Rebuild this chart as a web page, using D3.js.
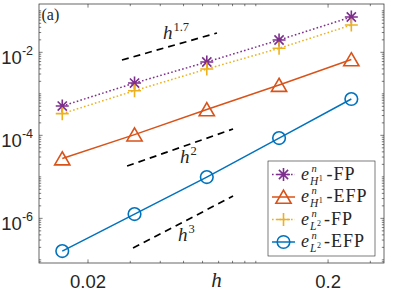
<!DOCTYPE html>
<html>
<head>
<meta charset="utf-8">
<script src="https://cdn.jsdelivr.net/npm/d3@7"></script>
<style>
  body { margin: 0; background: #fff; }
  svg text { fill: #262626; }
</style>
</head>
<body>
<div id="chart"></div>
<script>
// mesh sizes and errors
var hVals = [0.015625, 0.03125, 0.0625, 0.125, 0.25];
var errH1FP = [5.08e-4, 1.82e-3, 5.84e-3, 1.98e-2, 7.10e-2];
var errH1EFP = [2.76e-5, 1.04e-4, 4.19e-4, 1.63e-3, 6.71e-3];
var errL2FP = [3.33e-4, 1.19e-3, 3.96e-3, 1.25e-2, 4.55e-2];
var errL2EFP = [1.63e-7, 1.27e-6, 9.89e-6, 8.61e-5, 7.50e-4];

var xTicks = [0.02, 0.2];
var xTickLabels = ['0.02', '0.2'];
var yTicks = [1e-6, 1e-4, 1e-2];
var yTickExps = ['-6', '-4', '-2'];

// reference slope segments, [h, err] at each end
var slope17 = [[0.0277, 6.52e-3], [0.0689, 2.92e-2]];
var slope2 = [[0.0291, 1.82e-5], [0.0804, 1.42e-4]];
var slope3 = [[0.0308, 1.92e-7], [0.0804, 3.44e-6]];

var SERIF = '"Liberation Serif", "Times New Roman", serif',
    SANS = '"Liberation Sans", Arial, Helvetica, sans-serif';

var width = 395,
    height = 296;

var x = d3.scaleLog()
    .domain([0.0125, 0.342])
    .range([39, 384]);

var y = d3.scaleLog()
    .domain([8.4e-8, 0.146])
    .range([263, 4]);

var svg = d3.select('#chart').append('svg')
    .attr('width', width)
    .attr('height', height);

// marker shapes
function starPath() {
    var r = 6.5, d = r * 0.7071;
    return 'M0,' + (-r) + 'V' + r + 'M' + (-r) + ',0H' + r +
        'M' + (-d) + ',' + (-d) + 'L' + d + ',' + d +
        'M' + (-d) + ',' + d + 'L' + d + ',' + (-d);
}
function trianglePath() {
    return 'M0,-6.8L7.6,6.3L-7.6,6.3Z';
}
function plusPath() {
    return 'M0,-6.5V6.5M-6.5,0H6.5';
}
function circlePath() {
    var r = 6.3;
    return 'M' + r + ',0A' + r + ',' + r + ' 0 1,1 ' + (-r) + ',0A' + r + ',' + r + ' 0 1,1 ' + r + ',0Z';
}

var series = [
    { name: 'H1FP', data: errH1FP, color: '#7E2F8E', dash: '1.6,2.2', marker: starPath, sub: 'H', subsup: '1', tail: '-FP' },
    { name: 'H1EFP', data: errH1EFP, color: '#D95319', dash: null, marker: trianglePath, sub: 'H', subsup: '1', tail: '-EFP' },
    { name: 'L2FP', data: errL2FP, color: '#EDB120', dash: '1.6,2.2', marker: plusPath, sub: 'L', subsup: '2', tail: '-FP' },
    { name: 'L2EFP', data: errL2EFP, color: '#0072BD', dash: null, marker: circlePath, sub: 'L', subsup: '2', tail: '-EFP' }
];

var line = d3.line()
    .x(function (d) { return x(d[0]); })
    .y(function (d) { return y(d[1]); });

// ticks (inside, on all four sides)
var frame = svg.append('g').attr('class', 'frame');
var x0 = x.range()[0], x1 = x.range()[1], y0 = y.range()[0], y1 = y.range()[1];

var xMinor = [];
[0.01, 0.1].forEach(function (p) {
    for (var k = 1; k <= 9; k++) {
        var v = +(k * p).toPrecision(3);
        if (v > x.domain()[0] && v < x.domain()[1] && xTicks.indexOf(v) < 0) xMinor.push(v);
    }
});
var yMinor = [];
[1e-8, 1e-7, 1e-6, 1e-5, 1e-4, 1e-3, 1e-2, 1e-1].forEach(function (p) {
    for (var k = 1; k <= 9; k++) {
        var v = +(k * p).toPrecision(3);
        if (v > y.domain()[0] && v < y.domain()[1] && yTicks.indexOf(v) < 0) yMinor.push(v);
    }
});

function xTickMarks(vals, len) {
    vals.forEach(function (v) {
        frame.append('line').attr('x1', x(v)).attr('x2', x(v)).attr('y1', y0).attr('y2', y0 - len);
        frame.append('line').attr('x1', x(v)).attr('x2', x(v)).attr('y1', y1).attr('y2', y1 + len);
    });
}
function yTickMarks(vals, len) {
    vals.forEach(function (v) {
        frame.append('line').attr('y1', y(v)).attr('y2', y(v)).attr('x1', x0).attr('x2', x0 + len);
        frame.append('line').attr('y1', y(v)).attr('y2', y(v)).attr('x1', x1).attr('x2', x1 - len);
    });
}
xTickMarks(xMinor, 2.2);
xTickMarks(xTicks, 3.6);
yTickMarks(yMinor, 2.2);
yTickMarks(yTicks, 3.6);
frame.selectAll('line').attr('stroke', '#262626').attr('stroke-width', 0.6);

// data lines
var plot = svg.append('g');
series.forEach(function (s) {
    var pts = hVals.map(function (h, i) { return [h, s.data[i]]; });
    plot.append('path')
        .datum(pts)
        .attr('d', line)
        .attr('fill', 'none')
        .attr('stroke', s.color)
        .attr('stroke-width', 1.5)
        .attr('stroke-dasharray', s.dash);
    plot.selectAll('.m-' + s.name)
        .data(pts)
        .enter().append('path')
        .attr('class', 'm-' + s.name)
        .attr('transform', function (d) { return 'translate(' + x(d[0]) + ',' + y(d[1]) + ')'; })
        .attr('d', s.marker)
        .attr('fill', 'none')
        .attr('stroke', s.color)
        .attr('stroke-width', 1.6);
});

// slope guides
var slopes = [
    { seg: slope17, exp: '1.7', dx: -6.5, dy: -7.5 },
    { seg: slope2, exp: '2', dx: 0, dy: 15.5 },
    { seg: slope3, exp: '3', dx: -5, dy: 19 }
];
slopes.forEach(function (s) {
    plot.append('path')
        .datum(s.seg)
        .attr('d', line)
        .attr('stroke', '#000')
        .attr('stroke-width', 1.7)
        .attr('stroke-dasharray', '7,5');
    var mx = (x(s.seg[0][0]) + x(s.seg[1][0])) / 2,
        my = (y(s.seg[0][1]) + y(s.seg[1][1])) / 2;
    var t = plot.append('text')
        .attr('font-family', SERIF)
        .attr('x', mx + s.dx)
        .attr('y', my + s.dy)
        .attr('font-size', 19);
    t.append('tspan').attr('font-style', 'italic').text('h');
    t.append('tspan').attr('dx', 1).attr('dy', -8).attr('font-size', 12.5).text(s.exp);
});

// frame box
frame.append('rect')
    .attr('x', x0).attr('y', y1)
    .attr('width', x1 - x0).attr('height', y0 - y1)
    .attr('fill', 'none')
    .attr('stroke', '#262626')
    .attr('stroke-width', 0.7);

// tick labels
var labels = svg.append('g').attr('font-family', SANS);
xTicks.forEach(function (v, i) {
    labels.append('text')
        .attr('x', x(v))
        .attr('y', 288)
        .attr('text-anchor', 'middle')
        .attr('font-size', 18.5)
        .text(xTickLabels[i]);
});
yTicks.forEach(function (v, i) {
    var t = labels.append('text')
        .attr('x', 33)
        .attr('y', y(v) + 11.5)
        .attr('text-anchor', 'end')
        .attr('font-size', 18.5);
    t.append('tspan').text('10');
    t.append('tspan').attr('dy', -9).attr('font-size', 12.5).text(yTickExps[i]);
});

// axis label and panel tag
svg.append('text')
    .attr('font-family', SERIF)
    .attr('x', (x0 + x1) / 2 + 5)
    .attr('y', 287)
    .attr('text-anchor', 'middle')
    .attr('font-size', 21)
    .attr('font-style', 'italic')
    .text('h');
svg.append('text')
    .attr('font-family', SERIF)
    .attr('x', 41.5)
    .attr('y', 20)
    .attr('font-size', 16)
    .text('(a)');

// legend
var legend = svg.append('g').attr('font-family', SERIF).attr('transform', 'translate(268,161)');
legend.append('rect')
    .attr('width', 107).attr('height', 95)
    .attr('fill', '#fff')
    .attr('stroke', '#262626')
    .attr('stroke-width', 0.6);
series.forEach(function (s, i) {
    var cy = 13.5 + i * 22.5;
    var row = legend.append('g').attr('transform', 'translate(0,' + cy + ')');
    row.append('line')
        .attr('x1', 4).attr('x2', 27)
        .attr('stroke', s.color).attr('stroke-width', 1.5)
        .attr('stroke-dasharray', s.dash);
    row.append('path')
        .attr('transform', 'translate(15.5,0)')
        .attr('d', s.marker)
        .attr('fill', 'none').attr('stroke', s.color).attr('stroke-width', 1.6);
    var t = row.append('text').attr('x', 33).attr('y', 5).attr('font-size', 18);
    t.append('tspan').attr('font-style', 'italic').text('e');
    t.append('tspan').attr('x', 43.5).attr('dy', -8).attr('font-size', 10.5).attr('font-style', 'italic').text('n');
    t.append('tspan').attr('x', 42).attr('dy', 13).attr('font-size', 11.5).attr('font-style', 'italic').text(s.sub);
    t.append('tspan').attr('dx', 0.5).attr('dy', -4).attr('font-size', 8).text(s.subsup);
    t.append('tspan').attr('x', s.sub === 'H' ? 58.5 : 56).attr('dy', -1)
        .attr('font-size', 18).attr('letter-spacing', 1).text(s.tail);
});
</script>
</body>
</html>
